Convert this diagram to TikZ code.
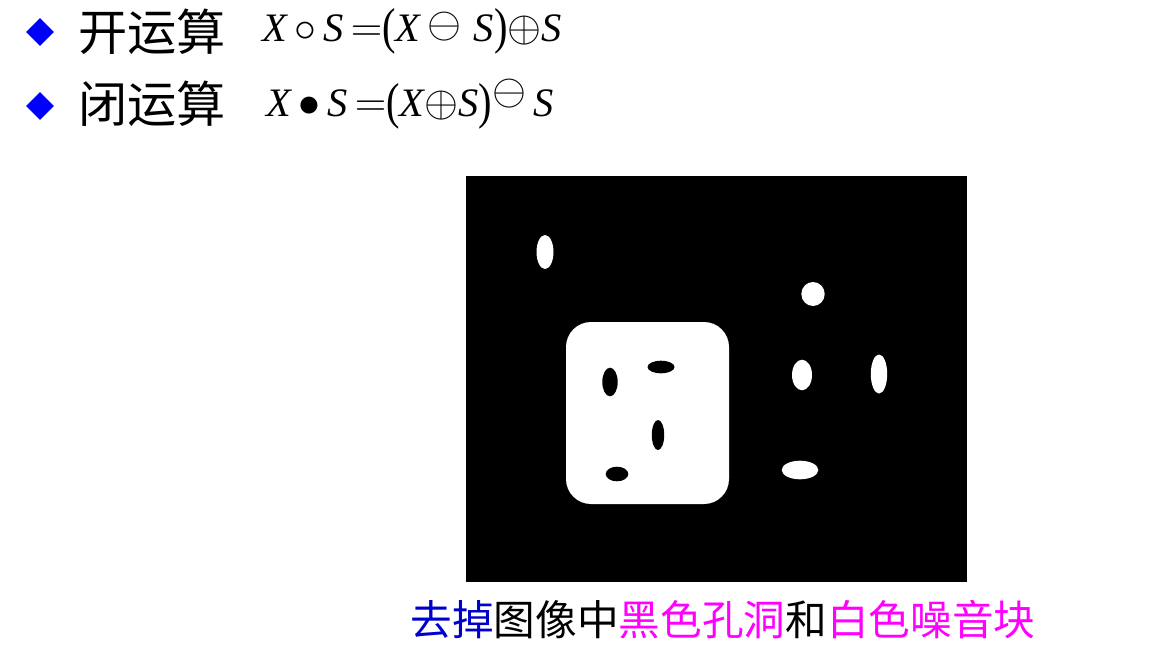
\documentclass[tikz,border=0pt]{standalone}
\usepackage{fontspec}
\usepackage{graphicx}
\usetikzlibrary{shapes.geometric}
\newfontfamily\cjk{Noto Sans CJK SC}
\newfontfamily\tms{Liberation Serif}
\newcommand\mv[1]{\mbox{\tms\itshape #1}}
\newcommand\lpar{\mbox{\raisebox{-0.04em}{\scalebox{1}[1.25]{\tms(}}}}
\newcommand\rpar{\mbox{\raisebox{-0.04em}{\scalebox{1}[1.25]{\tms)}}}}
\definecolor{capblue}{RGB}{0,0,204}
\definecolor{capmag}{RGB}{255,0,255}

\begin{document}
\begin{tikzpicture}[x=0.02cm,y=-0.02cm]
\tikzstyle{every node}=[inner sep=0pt]
\tikzstyle{bullet}=[diamond, fill=blue, minimum width=0.56cm, minimum height=0.56cm]
\tikzstyle{title}=[anchor=west, font=\cjk\fontsize{28}{32}\selectfont]
\tikzstyle{formula}=[anchor=west, font=\fontsize{23}{28}\selectfont]
\useasboundingbox (0,0) rectangle (1155,663);
% the picture: black field, white block with holes, white noise
\fill[black] (466,176) rectangle (967,582);
\fill[white,rounded corners=0.5cm] (566,322) rectangle (729,504);
\fill[black] (610,382) ellipse [x radius=7.7, y radius=14.3];
\fill[black] (661,367) ellipse [x radius=13.5, y radius=6.3];
\fill[black] (658,435) ellipse [x radius=6.2, y radius=15];
\fill[black] (617,474) ellipse [x radius=11.3, y radius=7.3];
\fill[white] (545,252) ellipse [x radius=8.5, y radius=17];
\fill[white] (813,294) ellipse [x radius=11.7, y radius=12];
\fill[white] (802,375) ellipse [x radius=10, y radius=15.3];
\fill[white] (879,374) ellipse [x radius=8.2, y radius=19.5];
\fill[white] (800,470) ellipse [x radius=18.3, y radius=9.3];
% text
\node (b1) [bullet] at (40,32) {};
\node (t1) [title] at (78,32) {开运算};
\node (f1) [formula] at (262,31)
  {$\mv{X}\,{\circ}\,\mv{S}\,{=}\lpar\mv{X}\,\raisebox{0.1em}{$\ominus$}\;\mv{S}\rpar{\oplus}\mv{S}$};
\node (b2) [bullet] at (40,106) {};
\node (t2) [title] at (78,104) {闭运算};
\node (f2) [formula] at (266,104)
  {$\mv{X}\,{\bullet}\,\mv{S}\,{=}\lpar\mv{X}{\oplus}\mv{S}\rpar\raisebox{0.3em}{$\ominus$}\,\mv{S}$};
\node (cap) at (723,620) [font=\cjk\fontsize{23.7}{28}\selectfont]
  {\textcolor{capblue}{去掉}图像中\textcolor{capmag}{黑色孔洞}和\textcolor{capmag}{白色噪音块}};
\end{tikzpicture}
\end{document}
